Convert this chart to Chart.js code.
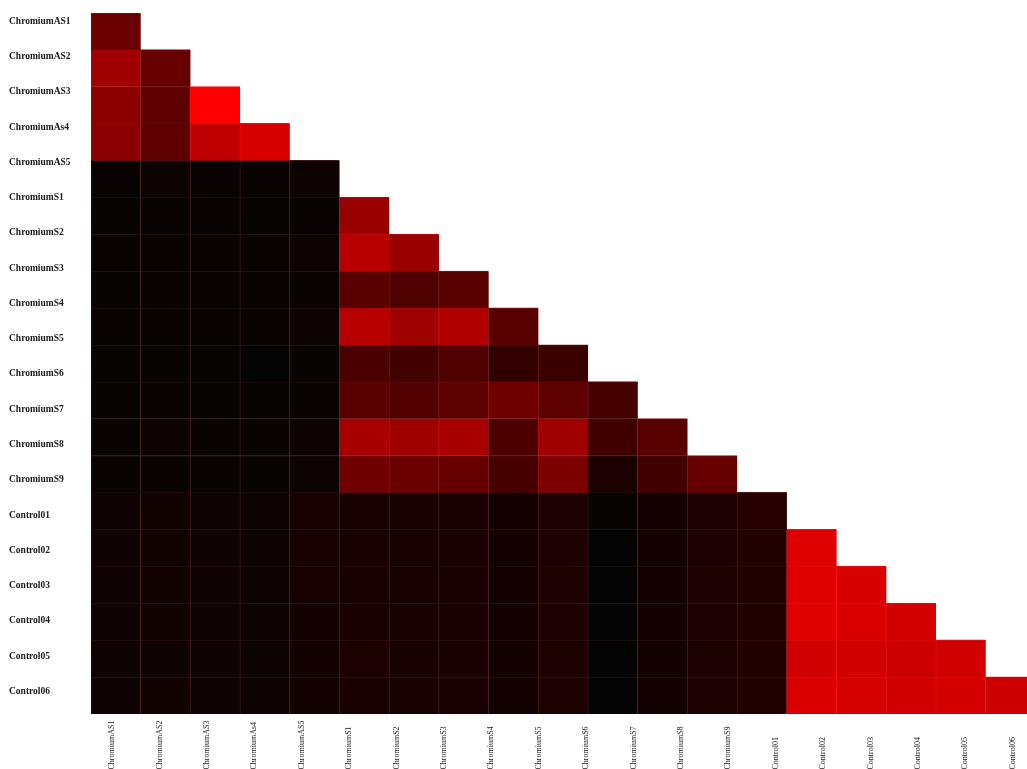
<!DOCTYPE html>
<html>
<head>
<meta charset="utf-8">
<title>Correlation heatmap</title>
<script src="https://cdn.jsdelivr.net/npm/chart.js@4.4.0/dist/chart.umd.min.js"></script>
<style>
  html, body { margin: 0; padding: 0; background: #fff; overflow: hidden; }
  #wrap { width: 1027px; height: 769px; }
</style>
</head>
<body>
<div id="wrap"><canvas id="heatmap"></canvas></div>
<script>
// sample names, same order on both axes
const sampleNames = [
  "ChromiumAS1", "ChromiumAS2", "ChromiumAS3", "ChromiumAs4", "ChromiumAS5",
  "ChromiumS1", "ChromiumS2", "ChromiumS3", "ChromiumS4", "ChromiumS5",
  "ChromiumS6", "ChromiumS7", "ChromiumS8", "ChromiumS9",
  "Control01", "Control02", "Control03", "Control04", "Control05", "Control06"
];

// lower triangle of the matrix, one list per row (0 = black, 1 = full red)
const heatRows = [
  [0.42],
  [0.63, 0.40],
  [0.55, 0.37, 1.00],
  [0.54, 0.37, 0.75, 0.85],
  [0.04, 0.05, 0.04, 0.04, 0.05],
  [0.03, 0.04, 0.04, 0.03, 0.04, 0.60],
  [0.04, 0.04, 0.04, 0.04, 0.05, 0.72, 0.60],
  [0.03, 0.04, 0.04, 0.04, 0.04, 0.35, 0.31, 0.35],
  [0.04, 0.04, 0.04, 0.04, 0.05, 0.72, 0.63, 0.69, 0.35],
  [0.03, 0.03, 0.03, 0.02, 0.03, 0.29, 0.26, 0.31, 0.20, 0.23],
  [0.03, 0.04, 0.03, 0.03, 0.04, 0.35, 0.32, 0.36, 0.44, 0.37, 0.28],
  [0.04, 0.05, 0.04, 0.04, 0.05, 0.66, 0.62, 0.66, 0.30, 0.63, 0.25, 0.35],
  [0.04, 0.04, 0.04, 0.03, 0.05, 0.44, 0.42, 0.40, 0.28, 0.49, 0.11, 0.25, 0.40],
  [0.06, 0.07, 0.06, 0.05, 0.09, 0.10, 0.09, 0.10, 0.08, 0.11, 0.03, 0.08, 0.11, 0.15],
  [0.06, 0.07, 0.06, 0.05, 0.09, 0.10, 0.09, 0.10, 0.08, 0.11, 0.02, 0.08, 0.11, 0.13, 0.88],
  [0.06, 0.07, 0.06, 0.05, 0.09, 0.10, 0.09, 0.10, 0.08, 0.11, 0.02, 0.08, 0.11, 0.13, 0.87, 0.85],
  [0.06, 0.07, 0.06, 0.05, 0.08, 0.10, 0.09, 0.10, 0.08, 0.11, 0.02, 0.08, 0.11, 0.13, 0.88, 0.86, 0.83],
  [0.06, 0.06, 0.06, 0.05, 0.08, 0.11, 0.09, 0.10, 0.08, 0.11, 0.02, 0.08, 0.11, 0.13, 0.82, 0.82, 0.80, 0.82],
  [0.06, 0.07, 0.06, 0.05, 0.08, 0.10, 0.09, 0.10, 0.08, 0.11, 0.02, 0.08, 0.11, 0.13, 0.86, 0.84, 0.82, 0.83, 0.80]
];

// black -> red colour scale
function cellColor(v) {
  const r = Math.round(255 * v);
  const gb = Math.max(0, Math.round(5 - 40 * v));
  return `rgb(${r},${gb},${gb})`;
}

// thin cell separators, a bit lighter than the cell
function lineColor(v) {
  const r = Math.min(255, Math.round(255 * v * 0.88 + 46));
  const gb = Math.max(14, Math.round(26 - 12 * v));
  return `rgb(${r},${gb},${gb})`;
}

// one floating-bar dataset per matrix row
const datasets = heatRows.map((vals, r) => ({
  label: sampleNames[r],
  data: vals.map((v, c) => ({ x: c + 0.5, y: [r, r + 1] })),
  backgroundColor: vals.map(cellColor),
  borderColor: vals.map(lineColor),
  borderWidth: { top: 1, left: 1, right: 0, bottom: 0 },
  borderSkipped: false,
  inflateAmount: 0.6,
  grouped: false,
  barPercentage: 1,
  categoryPercentage: 1,
  xAxisID: "x",
  yAxisID: "y"
}));

// rotated column names, written upward from the bottom edge
const bottomLabels = {
  id: "bottomLabels",
  afterDraw(chart) {
    const scale = chart.scales.xLab;
    const ctx = chart.ctx;
    ctx.save();
    ctx.font = '8px "Liberation Serif"';
    ctx.fillStyle = "#1a1a1a";
    ctx.textAlign = "left";
    ctx.textBaseline = "middle";
    sampleNames.forEach((name, i) => {
      ctx.save();
      ctx.translate(scale.getPixelForValue(i), chart.height + 0.5);
      ctx.rotate(-Math.PI / 2);
      ctx.fillText(name, 0, 0);
      ctx.restore();
    });
    ctx.restore();
  }
};

// an axis that takes part in layout but draws nothing
const blank = {
  offset: false,
  grid: { display: false },
  border: { display: false },
  ticks: { display: false }
};

new Chart(document.getElementById("heatmap"), {
  type: "bar",
  data: { datasets },
  plugins: [bottomLabels],
  options: {
    responsive: true,
    maintainAspectRatio: false,
    animation: false,
    events: [],
    layout: { padding: { left: 9, top: 13, right: 0, bottom: 0 } },
    plugins: {
      legend: { display: false },
      tooltip: { enabled: false }
    },
    scales: {
      x: {
        ...blank,
        type: "linear",
        position: "bottom",
        min: 0,
        max: 18.83,
        afterBuildTicks: s => { s.ticks = [{ value: 0 }]; },
        afterFit: s => { s.height = 0; }
      },
      y: {
        ...blank,
        type: "linear",
        position: "left",
        min: 0,
        max: 19,
        reverse: true,
        afterFit: s => { s.width = 0; }
      },
      xLab: {
        ...blank,
        type: "linear",
        axis: "x",
        position: "bottom",
        min: -0.443,
        max: 19.30,
        afterFit: s => { s.height = 55; }
      },
      yLab: {
        type: "linear",
        axis: "y",
        position: "left",
        offset: false,
        min: -0.235,
        max: 19.64,
        reverse: true,
        afterBuildTicks: s => { s.ticks = sampleNames.map((_, i) => ({ value: i })); },
        afterFit: s => { s.width = 82; },
        grid: { display: false },
        border: { display: false },
        ticks: {
          crossAlign: "far",
          padding: 0,
          autoSkip: false,
          color: "#1a1a1a",
          font: { family: "Liberation Serif", size: 9.5, weight: "bold" },
          callback: v => sampleNames[v]
        }
      }
    }
  }
});
</script>
</body>
</html>
